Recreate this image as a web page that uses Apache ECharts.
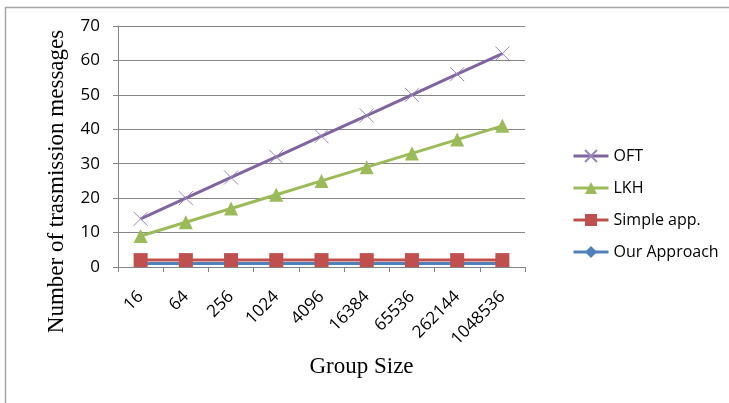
<!DOCTYPE html>
<html>
<head>
<meta charset="utf-8">
<script src="https://cdn.jsdelivr.net/npm/echarts@6/dist/echarts.min.js"></script>
<style>
  html, body { margin: 0; padding: 0; background: #fff; }
  #chart { width: 729px; height: 403px; }
</style>
</head>
<body>
<div id="chart"></div>
<script>
// Group sizes on the category axis
const groupSizes = ['16', '64', '256', '1024', '4096', '16384', '65536', '262144', '1048536'];

// Number of transmission messages per scheme
const oftValues = [14, 20, 26, 32, 38, 44, 50, 56, 62];
const lkhValues = [9, 13, 17, 21, 25, 29, 33, 37, 41];
const simpleValues = [2, 2, 2, 2, 2, 2, 2, 2, 2];
const ourValues = [1, 1, 1, 1, 1, 1, 1, 1, 1];

const seriesNames = ['OFT', 'LKH', 'Simple app.', 'Our Approach'];

const tickFont = '"Open Sans", "Liberation Sans", sans-serif';
const titleFont = '"Liberation Serif", "DejaVu Serif", serif';

const chart = echarts.init(document.getElementById('chart'), null, { renderer: 'canvas' });

chart.setOption({
  animation: false,
  backgroundColor: '#ffffff',
  graphic: [{
    type: 'rect',
    left: 3, top: 5,
    shape: { x: 0, y: 0, width: 900, height: 600 },
    style: { fill: 'none', stroke: '#a6a6a6', lineWidth: 1.5 },
    silent: true, z: -10
  }],
  grid: { left: 118, right: 204, top: 26, bottom: 136, containLabel: false },
  legend: {
    orient: 'vertical',
    left: 567, top: 143,
    itemWidth: 35, itemHeight: 15, itemGap: 16,
    data: seriesNames,
    lineStyle: { width: 3 },
    textStyle: { fontFamily: tickFont, fontSize: 16, color: '#000' }
  },
  xAxis: {
    type: 'category',
    data: groupSizes,
    boundaryGap: true,
    name: 'Group Size',
    nameLocation: 'middle',
    nameGap: 82,
    nameTextStyle: { fontFamily: titleFont, fontSize: 23, color: '#000', padding: [0, 0, 0, 80] },
    axisLine: { lineStyle: { color: '#868686', width: 1 } },
    axisTick: { show: true, alignWithLabel: false, length: 5, lineStyle: { color: '#868686' } },
    axisLabel: { rotate: 45, margin: 27, fontFamily: tickFont, fontSize: 17, color: '#000', interval: 0 },
    splitLine: { show: false }
  },
  yAxis: {
    type: 'value',
    min: 0, max: 70, interval: 10,
    name: 'Number of trasmission messages',
    nameLocation: 'middle',
    nameGap: 50,
    nameRotate: 90,
    nameTextStyle: { fontFamily: titleFont, fontSize: 23, color: '#000', padding: [0, 70, 0, 0] },
    axisLine: { show: true, lineStyle: { color: '#868686', width: 1 } },
    axisTick: { show: true, length: 5, lineStyle: { color: '#868686' } },
    axisLabel: { margin: 18, fontFamily: tickFont, fontSize: 17, color: '#000' },
    splitLine: { show: true, lineStyle: { color: '#868686', width: 1 } }
  },
  series: [
    {
      name: 'OFT', type: 'line', data: oftValues,
      symbol: 'path://M0,0L10,10M10,0L0,10', symbolSize: 14, showAllSymbol: true,
      lineStyle: { color: '#8064A2', width: 3 },
      itemStyle: { color: '#8064A2', borderColor: '#9a86bd', borderWidth: 1 },
      z: 4
    },
    {
      name: 'LKH', type: 'line', data: lkhValues,
      symbol: 'triangle', symbolSize: 14,
      lineStyle: { color: '#9BBB59', width: 3 },
      itemStyle: { color: '#9BBB59', borderWidth: 0 },
      z: 3
    },
    {
      name: 'Simple app.', type: 'line', data: simpleValues,
      symbol: 'rect', symbolSize: 14,
      lineStyle: { color: '#C0504D', width: 3 },
      itemStyle: { color: '#C0504D', borderWidth: 0 },
      z: 5
    },
    {
      name: 'Our Approach', type: 'line', data: ourValues,
      symbol: 'diamond', symbolSize: 9,
      lineStyle: { color: '#4F81BD', width: 3 },
      itemStyle: { color: '#4F81BD', borderWidth: 0 },
      z: 2
    }
  ]
});
</script>
</body>
</html>
